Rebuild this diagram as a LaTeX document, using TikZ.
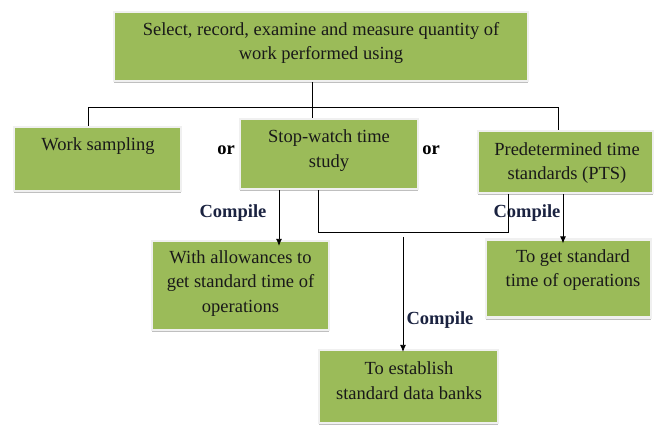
\documentclass[tikz,border=0pt]{standalone}
\usepackage{fontspec}
\setmainfont{Liberation Serif}
\usetikzlibrary{arrows.meta,shadows}
\definecolor{boxgreen}{HTML}{9BBB59}
\definecolor{navy}{HTML}{1A2240}
\begin{document}
\begin{tikzpicture}[x=1pt,y=-1pt,
  box/.style={rectangle, fill=boxgreen, draw=gray!12, line width=2.2pt, inner sep=0pt,
    drop shadow={shadow xshift=0.4pt, shadow yshift=-2.4pt, fill=gray!50, opacity=1}},
  txt/.style={font=\fontsize{18.5}{24.5}\selectfont, align=center, inner sep=0pt, text=black!90},
  lbl/.style={font=\fontsize{18.5}{22}\selectfont\bfseries, inner sep=0pt, text=navy},
  conn/.style={line width=0.8pt, black},
  arr/.style={conn, -{Latex[length=7pt,width=6pt]}}]
\useasboundingbox (0,0) rectangle (654,427);
% boxes
\node[box, minimum width=414pt, minimum height=69pt] (top) at (321,46.5) {};
\node[box, minimum width=167pt, minimum height=64pt] (ws) at (97.5,159) {};
\node[box, minimum width=178pt, minimum height=70pt] (sw) at (329,154) {};
\node[box, minimum width=175pt, minimum height=62pt] (pts) at (565.5,162) {};
\node[box, minimum width=177pt, minimum height=89pt] (wa) at (240.5,285.5) {};
\node[box, minimum width=165pt, minimum height=78pt] (tg) at (568.5,278.5) {};
\node[box, minimum width=179pt, minimum height=73pt] (db) at (408.5,386.5) {};
% texts
\node[txt] (toptxt) at (321,43) {Select, record, examine and measure quantity of\\work performed using};
\node[txt] (wstxt) at (98,146) {Work sampling};
\node[txt] (swtxt) at (329,150.5) {Stop-watch time\\study};
\node[txt] (ptstxt) at (567,163) {Predetermined time\\standards (PTS)};
\node[txt] (watxt) at (240.5,283.5) {With allowances to\\get standard time of\\operations};
\node[txt] (tgtxt) at (573,270) {To get standard\\time of operations};
\node[txt] (dbtxt) at (409,380.5) {To establish\\standard data banks};
% labels
\node[lbl, text=black] (or1) at (226,150) {or};
\node[lbl, text=black] (or2) at (431,150) {or};
\node[lbl] (c1) at (233,213) {Compile};
\node[lbl] (c2) at (527,213) {Compile};
\node[lbl] (c3) at (440,320) {Compile};
% coordinates
\coordinate (hl) at (88,107);
\coordinate (hr) at (558,107);
\coordinate (hm) at (312,107);
\coordinate (b1) at (318,232);
\coordinate (b2) at (508,232);
\coordinate (dstart) at (403,237);
% connectors
\draw[conn] (top.south -| hm) -- (hm |- sw.north);
\draw[conn] (ws.north -| hl) -- (hl) -- (hr) -- (hr |- pts.north);
\draw[arr] (sw.south -| 279,0) -- ([yshift=-6pt]wa.north -| 279,0);
\draw[conn] (sw.south -| b1) -- (b1) -- (b2) -- (b2 |- pts.south);
\draw[arr] (dstart) -- ([yshift=-3pt]db.north -| dstart);
\draw[arr] (pts.south -| 563,0) -- ([yshift=-5pt]tg.north -| 563,0);
\end{tikzpicture}
\end{document}
